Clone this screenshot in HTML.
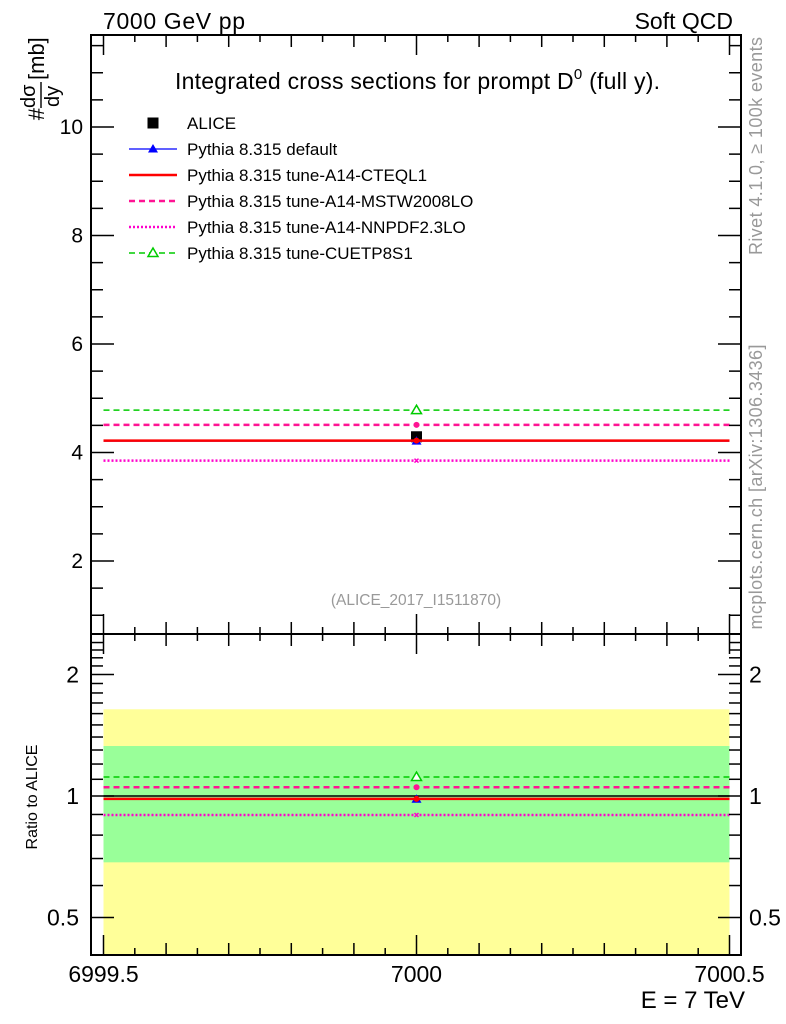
<!DOCTYPE html>
<html><head><meta charset="utf-8">
<style>
body{margin:0;background:#fff;}
svg{display:block;font-family:"Liberation Sans",Arial,sans-serif;}
</style></head>
<body>
<svg id="c" width="786" height="1024" viewBox="0 0 786 1024">
<text x="103" y="29" font-size="23" textLength="142">7000 GeV pp</text>
<text x="733" y="29" font-size="23" text-anchor="end">Soft QCD</text>
<text x="175" y="89" font-size="23" textLength="485">Integrated cross sections for prompt D<tspan dy="-10" font-size="15">0</tspan><tspan dy="10"> (full y).</tspan></text>
<text transform="translate(762,146) rotate(-90)" font-size="18" fill="#999" text-anchor="middle" textLength="218">Rivet 4.1.0, ≥ 100k events</text>
<text transform="translate(762,487) rotate(-90)" font-size="18" fill="#999" text-anchor="middle" textLength="285">mcplots.cern.ch [arXiv:1306.3436]</text>
<text x="416" y="605" font-size="15.5" fill="#999" text-anchor="middle">(ALICE_2017_I1511870)</text>
<g transform="translate(44,80) rotate(-90)">
<text x="-28" y="0" font-size="22" text-anchor="end">#</text>
<text x="-28" y="-9" font-size="20" text-anchor="start">dσ</text>
<line x1="-28" y1="-3" x2="-2" y2="-3" stroke="#000" stroke-width="1.4"/>
<text x="-27" y="15" font-size="20">dy</text>
<text x="0" y="0" font-size="22">[mb]</text>
</g>
<text transform="translate(37,797) rotate(-90)" font-size="16" text-anchor="middle">Ratio to ALICE</text>
<text x="745" y="1008" font-size="24" text-anchor="end">E = 7 TeV</text>
<g id="marks"></g>
</svg>
<script>
const xTickLabels = ["6999.5", "7000", "7000.5"];
const xTickValues = [6999.5, 7000, 7000.5];
const mainTicks = [2, 4, 6, 8, 10];
const ratioTicks = [0.5, 1, 2];
const ratioTickLabels = ["0.5", "1", "2"];
const aliceValue = [4.29];
const aliceErrUp1 = [1.33];
const aliceErrDn1 = [0.685];
const aliceErrUp2 = [1.64];
const aliceErrDn2 = [0.36];
const seriesNames = ["Pythia 8.315 default","Pythia 8.315 tune-A14-CTEQL1","Pythia 8.315 tune-A14-MSTW2008LO","Pythia 8.315 tune-A14-NNPDF2.3LO","Pythia 8.315 tune-CUETP8S1"];
const defaultVals = [4.21];
const cteqVals = [4.22];
const mstwVals = [4.51];
const nnpdfVals = [3.85];
const cuetVals = [4.78];

const NS="http://www.w3.org/2000/svg";
const g=document.getElementById('marks');
function el(t,a,p){const e=document.createElementNS(NS,t);for(const k in a)e.setAttribute(k,a[k]);(p||g).appendChild(e);return e;}
const L=91,R=741,T=35,MB=634,RB=955;
const sx=v=>103.5+(v-6999.5)*626;
const sy=v=>561-(v-2)*54.25;
const ry=r=>796-Math.log2(r)*121.5;
const cy=(y,a,b)=>Math.max(a,Math.min(b,y));

let b=el('rect',{x:sx(6999.5),y:cy(ry(aliceErrUp2[0]),MB,RB),width:sx(7000.5)-sx(6999.5),height:cy(ry(aliceErrDn2[0]),MB,RB)-cy(ry(aliceErrUp2[0]),MB,RB),fill:'#ffff99'});


b=el('rect',{x:sx(6999.5),y:ry(aliceErrUp1[0]),width:sx(7000.5)-sx(6999.5),height:ry(aliceErrDn1[0])-ry(aliceErrUp1[0]),fill:'#99ff99'});


el('line',{x1:sx(6999.5),x2:sx(7000.5),y1:ry(1),y2:ry(1),stroke:'#000','stroke-width':1.5});

const styles=[
 {c:'#0000ff',w:1.2,d:'',m:'tri',vals:defaultVals,n:'series-default'},
 {c:'#ff0000',w:2.5,d:'',m:'dot',vals:cteqVals,n:'series-cteql1'},
 {c:'#ff1493',w:2.5,d:'6,4',m:'dot',vals:mstwVals,n:'series-mstw2008lo'},
 {c:'#ff00cc',w:2.5,d:'2,2',m:'x',vals:nnpdfVals,n:'series-nnpdf23lo'},
 {c:'#00cc00',w:1.5,d:'6,4',m:'otri',vals:cuetVals,n:'series-cuetp8s1'}];
function marker(m,x,y,c,s){
 if(m==='tri')return el('path',{d:`M${x},${y-s}L${x+s},${y+s*0.7}L${x-s},${y+s*0.7}Z`,fill:c});
 if(m==='otri')return el('path',{d:`M${x},${y-s}L${x+s},${y+s*0.7}L${x-s},${y+s*0.7}Z`,fill:'#fff',stroke:c,'stroke-width':1.5});
 if(m==='dot')return el('circle',{cx:x,cy:y,r:s*0.6,fill:c});
 if(m==='sq')return el('rect',{x:x-s,y:y-s,width:2*s,height:2*s,fill:c});
 return el('path',{d:`M${x-2},${y-2}L${x+2},${y+2}M${x-2},${y+2}L${x+2},${y-2}`,stroke:c,'stroke-width':1.5});
}
let a=marker('sq',sx(7000),sy(aliceValue[0]),'#000',5.5);


const order=[4,2,0,1,3];
for(const i of order){const s=styles[i];const v=s.vals[0];
 let ln=el('line',{x1:sx(6999.5),x2:sx(7000.5),y1:sy(v),y2:sy(v),stroke:s.c,'stroke-width':s.w,'stroke-dasharray':s.d});
 
 
 marker(s.m,sx(7000),sy(v),s.c,5);
 const r=v/aliceValue[0];
 let rl=el('line',{x1:sx(6999.5),x2:sx(7000.5),y1:ry(r),y2:ry(r),stroke:s.c,'stroke-width':s.w,'stroke-dasharray':s.d});
 
 
 marker(s.m,sx(7000),ry(r),s.c,5);
}
el('rect',{x:L,y:T,width:R-L,height:MB-T,fill:'none',stroke:'#000','stroke-width':2});
el('rect',{x:L,y:MB,width:R-L,height:RB-MB,fill:'none',stroke:'#000','stroke-width':2});
for(let v=1;v<=11.5;v+=0.5){const y=sy(v);const maj=Math.abs(v-Math.round(v/2)*2)<1e-6;const len=maj?23:12;
 el('line',{x1:L,x2:L+len,y1:y,y2:y,stroke:'#000','stroke-width':1.5});
 el('line',{x1:R,x2:R-len,y1:y,y2:y,stroke:'#000','stroke-width':1.5});}
mainTicks.forEach(v=>{let t=el('text',{x:L-8,y:sy(v)+7,'font-size':21,'text-anchor':'end'});t.textContent=v;
 
 });
const rminor=[0.5,0.6,0.7,0.8,0.9,1,1.1,1.2,1.3,1.4,1.5,1.6,1.7,1.8,1.9,2,2.1,2.2,2.3,2.4];
rminor.forEach(v=>{const y=ry(v);const maj=ratioTicks.includes(v);const len=maj?23:12;
 el('line',{x1:L,x2:L+len,y1:y,y2:y,stroke:'#000','stroke-width':1.5});
 el('line',{x1:R,x2:R-len,y1:y,y2:y,stroke:'#000','stroke-width':1.5});});
ratioTicks.forEach((v,i)=>{let t=el('text',{x:L-12,y:ry(v)+8,'font-size':23,'text-anchor':'end'});t.textContent=ratioTickLabels[i];
 
 
 let t2=el('text',{x:R+8,y:ry(v)+8,'font-size':23});t2.textContent=ratioTickLabels[i];
 
 });
for(let k=0;k<=20;k++){const v=6999.5+k*0.05;const x=sx(v);const maj=k%10===0;const len=maj?20:(k%2===0?12:7);
 for(const [y0,d] of [[T,1],[MB,-1],[MB,1],[RB,-1]]) el('line',{x1:x,x2:x,y1:y0,y2:y0+d*len,stroke:'#000','stroke-width':1.5});}
xTickValues.forEach((v,i)=>{let t=el('text',{x:sx(v),y:982,'font-size':23,'text-anchor':'middle'});t.textContent=xTickLabels[i];
 
 });
const legY=[123,149,175,201,227,253];
marker('sq',153,legY[0],'#000',5.5);
let lt=el('text',{x:187,y:legY[0]+6,'font-size':17});lt.textContent='ALICE';


styles.forEach((s,i)=>{const y=legY[i+1];
 el('line',{x1:129,x2:177,y1:y,y2:y,stroke:s.c,'stroke-width':s.w,'stroke-dasharray':s.d});
 if(s.m==='tri'||s.m==='otri')marker(s.m,153,y,s.c,5);
 let t=el('text',{x:187,y:y+6,'font-size':17});t.textContent=seriesNames[i];
 
 });
</script>
</body></html>
